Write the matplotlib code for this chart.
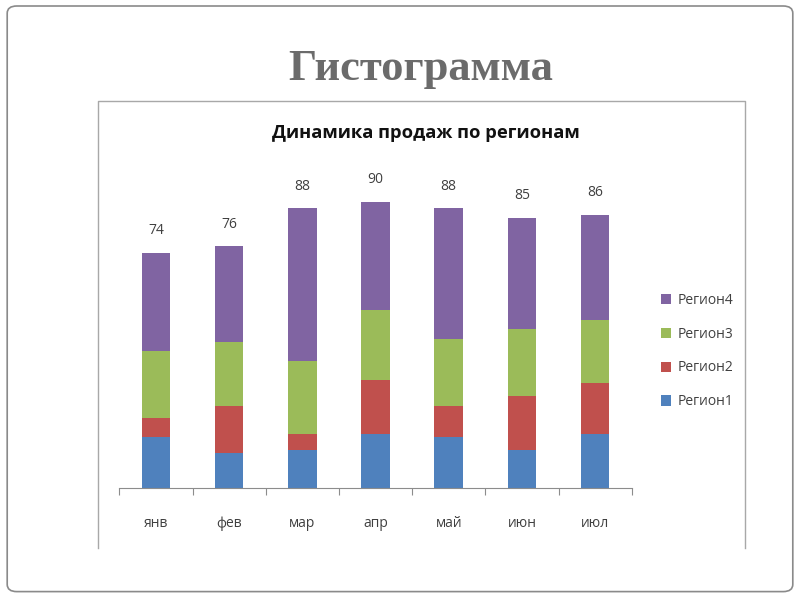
import matplotlib
matplotlib.use('Agg')
import matplotlib.pyplot as plt
from matplotlib.patches import FancyBboxPatch, Patch
from matplotlib.lines import Line2D
import numpy as np

# data
months = ['янв', 'фев', 'мар', 'апр', 'май', 'июн', 'июл']
region1 = [16, 11, 12, 17, 16, 12, 17]
region2 = [6, 15, 5, 17, 10, 17, 16]
region3 = [21, 20, 23, 22, 21, 21, 20]
region4 = [31, 30, 48, 34, 41, 35, 33]
series_names = ['Регион1', 'Регион2', 'Регион3', 'Регион4']
colors = ['#4F81BD', '#C0504D', '#9BBB59', '#8064A2']

plt.rcParams['font.family'] = ['Open Sans', 'DejaVu Sans']

fig = plt.figure(figsize=(8, 6), dpi=100)

# slide frame
fig.patches.append(FancyBboxPatch((0.009, 0.014), 0.982, 0.976,
                                  boxstyle='round,pad=0,rounding_size=0.012',
                                  transform=fig.transFigure, fill=False,
                                  edgecolor='#8a8a8a', linewidth=1.2))
fig.text(0.526, 0.885, 'Гистограмма', ha='center', va='center',
         family='Liberation Serif', fontweight='bold', fontsize=32,
         color='#6b6b6b')

# chart area frame (left, top, right only)
fx0, fx1, fy0, fy1 = 0.1225, 0.931, 0.087, 0.832
fig.lines.append(Line2D([fx0, fx0, fx1, fx1], [fy0, fy1, fy1, fy0],
                        transform=fig.transFigure, color='#a8a8a8',
                        linewidth=1.0))
fig.text(0.532, 0.778, 'Динамика продаж по регионам', ha='center',
         va='center', fontsize=13.2, fontweight='bold', color='#111111')

ax = fig.add_axes([0.1493, 0.1862, 0.6403, 0.5305])
x = np.arange(len(months))
series = [region1, region2, region3, region4]
bottom = np.zeros(len(months))
for vals, name, c in zip(series, series_names, colors):
    ax.bar(x, vals, width=0.39, bottom=bottom, color=c, label=name)
    bottom += np.array(vals)

for xi, tot in zip(x, bottom):
    ax.text(xi, tot + 4.5, f'{int(tot)}', ha='center', va='bottom',
            fontsize=10, color='#404040')

ax.set_xlim(-0.5, len(months) - 0.5)
ax.set_ylim(0, 100)
for s in ['top', 'right', 'left']:
    ax.spines[s].set_visible(False)
ax.spines['bottom'].set_color('#8c8c8c')
ax.set_yticks([])
ax.set_xticks(np.arange(-0.5, len(months)), labels=[''] * (len(months) + 1))
ax.tick_params(axis='x', which='major', length=5, color='#8c8c8c')
ax.set_xticks(x, labels=months, minor=True)
ax.tick_params(axis='x', which='minor', length=0, pad=20,
               labelsize=10, labelcolor='#404040')

handles = [Patch(facecolor=c, edgecolor='none') for c in colors][::-1]
leg = fig.legend(handles, series_names[::-1], loc='upper left',
                 bbox_to_anchor=(0.81, 0.533), frameon=False,
                 fontsize=10, handlelength=0.75, handleheight=0.75,
                 handletextpad=0.45, labelspacing=1.36)
for t in leg.get_texts():
    t.set_color('#404040')

fig.savefig('out.png', dpi=100)
